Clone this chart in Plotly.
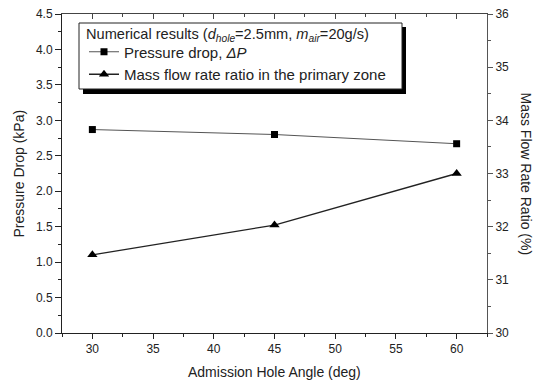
import plotly.graph_objects as go

angles = [30, 45, 60]
pressure_drop = [2.87, 2.80, 2.67]
mass_flow_ratio = [31.47, 32.03, 33.0]

FONT = "Liberation Sans, Arial, sans-serif"
L, R, T, B = 62, 55, 14, 49
W, H = 542, 382
pw, ph = W - L - R, H - T - B

def px(x):
    return (x - L) / pw

def py(y):
    return (H - B - y) / ph

fig = go.Figure()
fig.add_trace(go.Scatter(
    x=angles, y=pressure_drop, mode="lines+markers",
    name="Pressure drop, <i>ΔP</i>",
    line=dict(color="#555555", width=1),
    marker=dict(symbol="square", size=7, color="black"),
    xaxis="x", yaxis="y"))
fig.add_trace(go.Scatter(
    x=angles, y=mass_flow_ratio, mode="lines+markers",
    name="Mass flow rate ratio in the primary zone",
    line=dict(color="#222222", width=1.3),
    marker=dict(symbol="triangle-up", size=9, color="black"),
    xaxis="x", yaxis="y2"))
# invisible trace to carry top mirror axis
fig.add_trace(go.Scatter(x=[angles[0]], y=[pressure_drop[0]], mode="markers",
                         marker=dict(opacity=0), showlegend=False, hoverinfo="skip",
                         xaxis="x3", yaxis="y"))

tickfont = dict(family=FONT, size=12, color="#222222")
fig.update_layout(
    width=W, height=H,
    margin=dict(l=L, r=R, t=T, b=B, autoexpand=False),
    paper_bgcolor="white", plot_bgcolor="white",
    font=dict(family=FONT, size=14, color="#222222"),
    xaxis=dict(range=[27.5, 62.5], tick0=30, dtick=5, ticks="outside", ticklen=5,
               tickcolor="#222222", showline=True, linecolor="#222222", linewidth=1,
               showgrid=False, zeroline=False, tickfont=tickfont, automargin=False,
               minor=dict(ticks="outside", ticklen=3, dtick=2.5, tick0=27.5, tickcolor="#222222")),
    xaxis3=dict(range=[27.5, 62.5], overlaying="x", side="top", anchor="y",
                tick0=30, dtick=5, ticks="inside", ticklen=5, tickcolor="#444444",
                showline=True, linecolor="#444444", linewidth=1, automargin=False,
                showticklabels=False, showgrid=False, zeroline=False,
                minor=dict(ticks="inside", ticklen=3, dtick=2.5, tick0=27.5, tickcolor="#444444")),
    yaxis=dict(range=[0, 4.5], dtick=0.5, tickformat=".1f", ticks="outside", ticklen=6,
               tickcolor="#222222", showline=True, linecolor="#222222", linewidth=1,
               showgrid=False, zeroline=False, tickfont=tickfont, automargin=False,
               minor=dict(ticks="outside", ticklen=3, dtick=0.25, tickcolor="#222222")),
    yaxis2=dict(range=[30, 36], dtick=1, overlaying="y", side="right", anchor="x",
                ticks="outside", ticklen=5, tickcolor="#555555", showline=True,
                linecolor="#555555", linewidth=1, showgrid=False, zeroline=False,
                tickfont=tickfont, automargin=False,
                minor=dict(ticks="outside", ticklen=3, dtick=0.5, tickcolor="#555555")),
    legend=dict(x=px(84), y=py(35.5), xanchor="left", yanchor="top",
                bgcolor="rgba(0,0,0,0)", borderwidth=0,
                font=dict(family=FONT, size=15, color="#222222"),
                tracegroupgap=0, itemwidth=30),
    showlegend=True,
)
# legend shadow and box
fig.add_shape(type="rect", xref="paper", yref="paper",
              x0=px(83), x1=px(406), y0=py(94), y1=py(27),
              fillcolor="black", line=dict(width=0), layer="below")
fig.add_shape(type="rect", xref="paper", yref="paper",
              x0=px(79), x1=px(402), y0=py(89), y1=py(23),
              fillcolor="white", line=dict(color="#222222", width=1), layer="below")
fig.add_annotation(text="Numerical results (<i>d</i><sub><i>hole</i></sub>=2.5mm, "
                        "<i>m</i><sub><i>air</i></sub>=20g/s)",
                   xref="paper", yref="paper", x=px(84), y=py(35.5),
                   xanchor="left", yanchor="middle", showarrow=False,
                   font=dict(family=FONT, size=14.6, color="#222222"))
# axis titles
fig.add_annotation(text="Admission Hole Angle (deg)", xref="paper", yref="paper",
                   x=0.5, y=py(372), yanchor="middle", showarrow=False,
                   font=dict(family=FONT, size=14, color="#222222"))
fig.add_annotation(text="Pressure Drop (kPa)", xref="paper", yref="paper",
                   x=px(18), y=0.5, xanchor="center", textangle=-90, showarrow=False,
                   font=dict(family=FONT, size=14, color="#222222"))
fig.add_annotation(text="Mass Flow Rate Ratio (%)", xref="paper", yref="paper",
                   x=px(526), y=0.5, xanchor="center", textangle=90, showarrow=False,
                   font=dict(family=FONT, size=14, color="#222222"))
fig.write_html("out.html", config={"displayModeBar": False},
               post_script="document.body.style.margin='0';document.body.style.padding='0';")
